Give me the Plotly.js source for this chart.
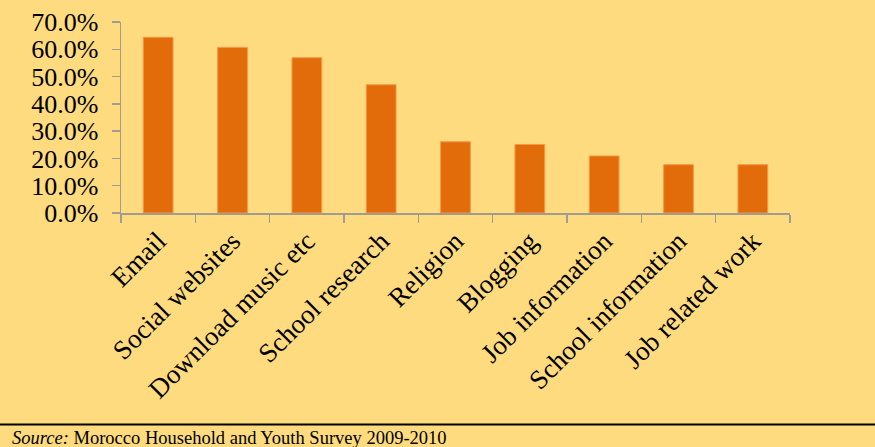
<!DOCTYPE html>
<html>
<head>
<meta charset="utf-8">
<script src="https://cdn.plot.ly/plotly-3.0.1.min.js"></script>
<style>
html,body{margin:0;padding:0;background:#FDDB7E;}
#chart{width:875px;height:447px;}
</style>
</head>
<body>
<div id="chart"></div>
<script>
var categories = ["Email","Social websites","Download music etc","School research","Religion","Blogging","Job information","School information","Job related work"];
var values = [64.4, 60.7, 56.9, 47.0, 26.1, 25.1, 20.9, 17.7, 17.7];
var yTickVals = [0,10,20,30,40,50,60,70];
var yTickText = ["0.0%","10.0%","20.0%","30.0%","40.0%","50.0%","60.0%","70.0%"];
var sourceLabel = "Source:";
var sourceText = "Morocco Household and Youth Survey 2009-2010";

var trace = {
  type: "bar",
  x: categories,
  y: values,
  width: 0.4,
  marker: {color: "#E36C0A", line: {color: "#F79646", width: 1}},
  hoverinfo: "none"
};

var layout = {
  width: 875, height: 447,
  margin: {l: 121, r: 85, t: 22, b: 234, pad: 0},
  paper_bgcolor: "#FDDB7E",
  plot_bgcolor: "#FDDB7E",
  showlegend: false,
  font: {family: "Liberation Serif, Times New Roman, serif", color: "#000"},
  xaxis: {
    type: "category",
    tickangle: -45,
    tickfont: {size: 27, family: "Liberation Serif", color: "#000"},
    showline: true, linecolor: "#A09C94", linewidth: 1.5,
    ticks: "outside", tickson: "boundaries", ticklen: 8, tickcolor: "#A09C94", tickwidth: 1.5,
    showgrid: false, zeroline: false,
    range: [-0.5, 8.5]
  },
  yaxis: {
    range: [0, 70],
    tickvals: yTickVals, ticktext: yTickText,
    tickfont: {size: 26, family: "Liberation Serif", color: "#000"},
    showline: true, linecolor: "#A09C94", linewidth: 1.5,
    ticks: "outside", ticklen: 8, tickcolor: "#A09C94", tickwidth: 1.5,
    ticklabelstandoff: 8,
    showgrid: false, zeroline: false
  },
  shapes: [{
    type: "line", xref: "paper", yref: "paper",
    x0: -121/669, x1: (875-121)/669,
    y0: (212.5-423)/190, y1: (212.5-423)/190,
    line: {color: "#000", width: 2}
  }],
  annotations: [{
    xref: "paper", yref: "paper",
    x: (10-121)/669, y: (212.5-436)/190,
    xanchor: "left", yanchor: "middle",
    showarrow: false,
    text: "<i>" + sourceLabel + "</i> " + sourceText,
    font: {size: 18.5, family: "Liberation Serif", color: "#000"}
  }]
};

Plotly.newPlot("chart", [trace], layout, {displayModeBar: false, staticPlot: true});
</script>
</body>
</html>
